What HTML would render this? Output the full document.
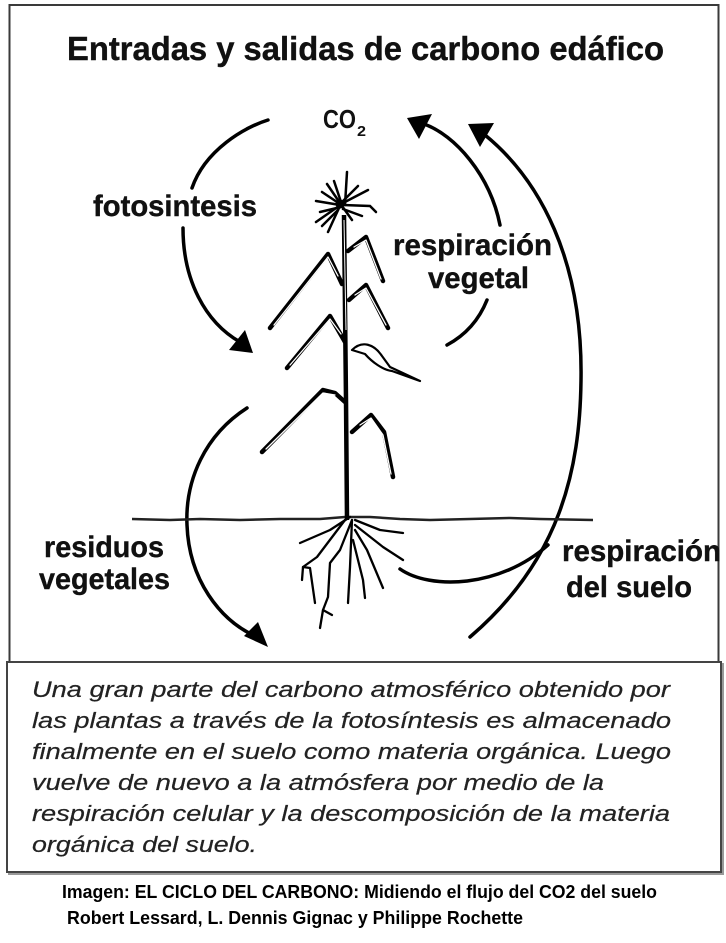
<!DOCTYPE html>
<html><head><meta charset="utf-8">
<style>
html,body{margin:0;padding:0;background:#fff;}
svg{display:block;}
text{font-family:"Liberation Sans",Arial,sans-serif;}
</style></head>
<body>
<svg width="726" height="943" viewBox="0 0 726 943" xmlns="http://www.w3.org/2000/svg">
<rect x="0" y="0" width="726" height="943" fill="#fff"/>
<!-- top frame -->
<rect x="9.5" y="5" width="709" height="657" fill="none" stroke="#3a3a3a" stroke-width="2"/>
<!-- bottom box -->
<rect x="9" y="664" width="714" height="210" fill="none" stroke="#999" stroke-width="2"/>
<rect x="7" y="662" width="714" height="210" fill="#fff" stroke="#444" stroke-width="2"/>

<!-- title -->
<text x="67" y="60" font-size="33" font-weight="bold" fill="#111" stroke="#111" stroke-width="0.4" textLength="597" lengthAdjust="spacingAndGlyphs">Entradas y salidas de carbono edáfico</text>

<!-- CO2 -->
<text x="323" y="128" font-size="26" font-weight="bold" fill="#111" textLength="33" lengthAdjust="spacingAndGlyphs">CO</text>
<text x="357" y="136" font-size="15" font-weight="bold" fill="#111" textLength="9" lengthAdjust="spacingAndGlyphs">2</text>

<!-- labels -->
<g font-size="30" font-weight="bold" fill="#111" stroke="#111" stroke-width="0.4">
<text x="93" y="216" textLength="164" lengthAdjust="spacingAndGlyphs">fotosintesis</text>
<text x="393" y="255" textLength="159" lengthAdjust="spacingAndGlyphs">respiración</text>
<text x="428" y="288" textLength="101" lengthAdjust="spacingAndGlyphs">vegetal</text>
<text x="44" y="557" textLength="120" lengthAdjust="spacingAndGlyphs">residuos</text>
<text x="39" y="589" textLength="131" lengthAdjust="spacingAndGlyphs">vegetales</text>
<text x="562" y="561" textLength="159" lengthAdjust="spacingAndGlyphs">respiración</text>
<text x="566" y="597" textLength="126" lengthAdjust="spacingAndGlyphs">del suelo</text>
</g>

<!-- arrows -->
<g fill="none" stroke="#000" stroke-width="3.5" stroke-linecap="round">
  <path d="M268,120 C245,127 205,150 192,188"/>
  <path d="M183,228 C183,280 205,322 240,342"/>
  <path d="M247,408 C205,435 185,480 187,525 C189,580 220,620 255,636"/>
  <path d="M424,124 C455,135 490,175 500,225"/>
  <path d="M487,300 Q475,330 447,345"/>
  <path d="M485,135 C540,180 583,260 581,380 C580,470 560,560 470,637"/>
  <path d="M400,569 C430,590 500,588 548,545"/>
</g>
<g fill="#000">
  <polygon points="253,353 229,350 245,330"/>
  <polygon points="268,647 244,636 258,622"/>
  <polygon points="407,118 432,114 419,139"/>
  <polygon points="468,124 494,123 480,147"/>
</g>

<!-- ground line -->
<path d="M132,519 L170,520 L200,519 L240,520 L280,519 L320,519 L345,517 L370,517 L400,519 L430,520 L470,519 L510,518 L540,519 L593,520" fill="none" stroke="#222" stroke-width="2.5"/>

<!-- stem -->
<path d="M347,520 L346,400 L344,215" fill="none" stroke="#000" stroke-width="4.5"/>
<path d="M346,330 L344,220" fill="none" stroke="#fff" stroke-width="1"/>

<!-- leaves (outlined) -->
<g fill="none" stroke-linejoin="round" stroke-linecap="round">
  <g stroke="#000" stroke-width="4.5">
    <path d="M342,284 L328,254 L270,328"/>
    <path d="M348,251 L366,237 L383,281"/>
    <path d="M349,300 L366,285 L388,328"/>
    <path d="M345,342 L330,316 L287,368"/>
    <path d="M345,402 L335,393 L323,390 L262,452"/>
    <path d="M352,432 L371,415 L384,432 L393,477"/>
  </g>
  <g stroke="#fff" stroke-width="1.3">
    <path d="M338,276 L328,257 L274,325"/>
    <path d="M354,247 L366,240 L381,279"/>
    <path d="M355,295 L366,288 L386,325"/>
    <path d="M341,334 L330,319 L290,365"/>
    <path d="M335,395 L323,393 L266,449"/>
    <path d="M360,425 L371,418 L383,435 L391,474"/>
  </g>
  <path d="M352,350 C362,340 374,344 382,356 L390,367 L420,381 L392,371 C383,370 372,362 365,354 Z" fill="#fff" stroke="#000" stroke-width="2.2"/>
</g>

<!-- tassel -->
<g stroke="#000" stroke-width="2.5" stroke-linecap="round" fill="none">
  <path d="M345,205 L347,172"/>
  <path d="M340,203 L327,184"/>
  <path d="M341,202 L334,181"/>
  <path d="M343,201 L358,186"/>
  <path d="M343,203 L368,190"/>
  <path d="M343,205 L370,206 L376,212"/>
  <path d="M340,205 L316,201"/>
  <path d="M339,206 L316,222"/>
  <path d="M339,208 L328,232"/>
  <path d="M343,209 L362,216"/>
  <path d="M340,204 L322,192"/>
  <path d="M341,207 L320,212"/>
  <path d="M342,206 L352,220"/>
  <path d="M338,210 L322,226"/>
</g>
<circle cx="340" cy="204" r="4.5" fill="#000"/>

<!-- roots -->
<g stroke="#000" stroke-width="2.3" stroke-linecap="round" stroke-linejoin="round" fill="none">
  <path d="M350,517 L330,530 L300,543"/>
  <path d="M345,520 L317,557 L303,567 L302,580"/>
  <path d="M303,567 L310,568 L315,603"/>
  <path d="M352,520 L340,550 L330,563 L328,597 L323,610 L320,628"/>
  <path d="M323,610 L332,615"/>
  <path d="M352,520 L350,567 L348,603"/>
  <path d="M353,540 L363,580 L365,598"/>
  <path d="M355,530 L367,550 L383,588"/>
  <path d="M355,525 L383,547 L403,560"/>
  <path d="M355,520 L380,530 L403,533"/>
</g>

<!-- body text -->
<g font-size="22" font-style="italic" fill="#222" stroke="#222" stroke-width="0.2">
  <text x="32" y="697" textLength="638" lengthAdjust="spacingAndGlyphs">Una gran parte del carbono atmosférico obtenido por</text>
  <text x="32" y="728" textLength="639" lengthAdjust="spacingAndGlyphs">las plantas a través de la fotosíntesis es almacenado</text>
  <text x="32" y="759" textLength="639" lengthAdjust="spacingAndGlyphs">finalmente en el suelo como materia orgánica. Luego</text>
  <text x="32" y="790" textLength="572" lengthAdjust="spacingAndGlyphs">vuelve de nuevo a la atmósfera por medio de la</text>
  <text x="32" y="821" textLength="638" lengthAdjust="spacingAndGlyphs">respiración celular y la descomposición de la materia</text>
  <text x="32" y="852" textLength="225" lengthAdjust="spacingAndGlyphs">orgánica del suelo.</text>
</g>

<!-- caption -->
<g font-size="18" font-weight="bold" fill="#000" style="white-space:pre">
  <text x="62" y="898" textLength="595" lengthAdjust="spacingAndGlyphs">Imagen: EL CICLO DEL CARBONO: Midiendo el flujo del CO2  del suelo</text>
  <text x="67" y="924" textLength="456" lengthAdjust="spacingAndGlyphs">Robert Lessard, L. Dennis Gignac  y Philippe Rochette</text>
</g>
</svg>
</body></html>
